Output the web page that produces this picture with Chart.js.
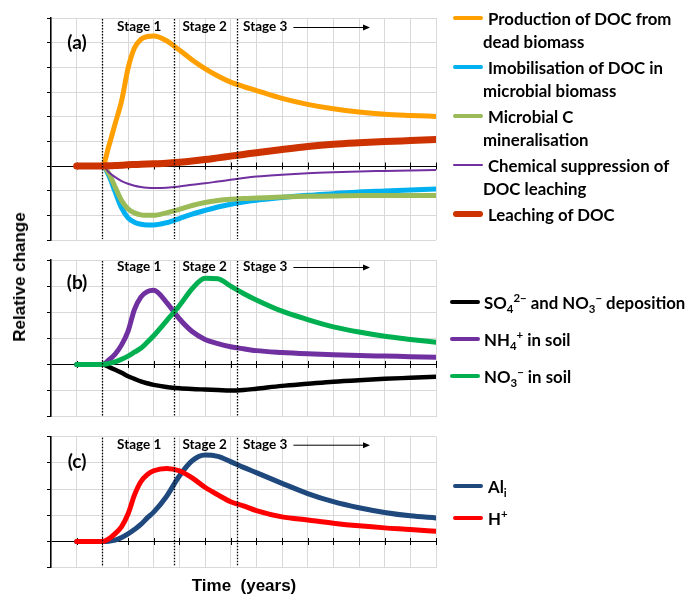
<!DOCTYPE html>
<html><head><meta charset="utf-8">
<script src="https://cdn.jsdelivr.net/npm/chart.js@4/dist/chart.umd.min.js"></script>
<style>
html,body{margin:0;padding:0;background:#fff;}
body{width:691px;height:597px;position:relative;overflow:hidden;font-family:Lato,'Liberation Sans',sans-serif;font-weight:bold;color:#000;}
canvas.panel{position:absolute;left:0;}
.legend{position:absolute;left:0;top:0;font-size:16.8px;}
.item{position:relative;}
.sw{position:absolute;border-radius:4px;}
.txt{line-height:23px;text-indent:5px;white-space:nowrap;}
sub,sup{font-size:68%;line-height:0;}
.ytitle{position:absolute;left:20px;top:277px;transform:translate(-50%,-50%) rotate(-90deg);white-space:nowrap;font-size:17px;font-family:'Liberation Sans',Arial,sans-serif;}
.xtitle{position:absolute;left:244px;top:586px;transform:translate(-50%,-50%);white-space:nowrap;font-size:17px;font-family:'Liberation Sans',Arial,sans-serif;}
</style></head><body>
<canvas id="ca" class="panel" width="446" height="250" style="top:0px"></canvas>
<canvas id="cb" class="panel" width="446" height="176" style="top:250px"></canvas>
<canvas id="cc" class="panel" width="446" height="150" style="top:427px"></canvas>
<div id="legA" class="legend"></div>
<div id="legB" class="legend"></div>
<div id="legC" class="legend"></div>
<div class="ytitle">Relative change</div>
<div class="xtitle">Time&nbsp; (years)</div>
<script>
// ---------- data ----------
const time = [1, 2, 2.25, 2.5, 2.75, 3, 3.25, 3.5, 3.75, 4, 4.5, 5, 5.5, 6, 6.5, 7, 7.5, 8, 9, 10, 11, 12, 13, 14, 15];
const stageBounds = [2, 4.8, 7.25];
const stageNames = ['Stage 1', 'Stage 2', 'Stage 3'];

// panel (a)
const docProduction   = [0, 0, 0.8, 1.72, 2.64, 3.95, 4.78, 5.13, 5.25, 5.27, 5.08, 4.7, 4.3, 3.95, 3.65, 3.4, 3.22, 3.06, 2.74, 2.5, 2.32, 2.19, 2.1, 2.05, 2.01];
const docImmobilised  = [0, 0, -0.38, -1.05, -1.7, -2.1, -2.28, -2.36, -2.39, -2.39, -2.3, -2.13, -1.95, -1.8, -1.66, -1.55, -1.46, -1.39, -1.28, -1.19, -1.12, -1.05, -1.01, -0.97, -0.93];
const mineralisation  = [0, 0, -0.3, -0.85, -1.4, -1.74, -1.9, -1.98, -2.0, -2.0, -1.9, -1.76, -1.6, -1.48, -1.4, -1.35, -1.32, -1.3, -1.26, -1.23, -1.22, -1.2, -1.2, -1.2, -1.2];
const chemSuppression = [0, 0, -0.25, -0.45, -0.61, -0.72, -0.8, -0.85, -0.88, -0.89, -0.88, -0.83, -0.76, -0.7, -0.63, -0.56, -0.49, -0.43, -0.35, -0.29, -0.25, -0.22, -0.2, -0.18, -0.16];
const docLeaching     = [0, 0, 0.01, 0.02, 0.03, 0.05, 0.06, 0.07, 0.08, 0.09, 0.11, 0.15, 0.2, 0.26, 0.33, 0.4, 0.47, 0.54, 0.67, 0.79, 0.88, 0.94, 0.99, 1.03, 1.07];
// panel (b)
const deposition      = [0, 0, -0.09, -0.2, -0.32, -0.45, -0.55, -0.65, -0.72, -0.78, -0.86, -0.91, -0.94, -0.96, -0.98, -1.0, -0.98, -0.93, -0.82, -0.74, -0.66, -0.6, -0.55, -0.51, -0.47];
const nh4Soil         = [0, 0, 0.17, 0.4, 0.75, 1.27, 2.1, 2.58, 2.79, 2.84, 2.38, 1.75, 1.26, 0.96, 0.8, 0.68, 0.6, 0.53, 0.46, 0.41, 0.37, 0.34, 0.32, 0.3, 0.28];
const no3Soil         = [0, 0, 0.04, 0.1, 0.2, 0.32, 0.47, 0.62, 0.85, 1.1, 1.67, 2.25, 2.9, 3.3, 3.28, 3.0, 2.72, 2.47, 2.04, 1.72, 1.44, 1.24, 1.08, 0.96, 0.85];
// panel (c)
const aluminium       = [0, 0, 0.01, 0.05, 0.15, 0.29, 0.46, 0.65, 0.9, 1.12, 1.72, 2.5, 3.08, 3.3, 3.25, 3.05, 2.83, 2.63, 2.22, 1.83, 1.52, 1.29, 1.11, 0.98, 0.9];
const hydrogen        = [0, 0, 0.1, 0.3, 0.57, 1.05, 1.77, 2.28, 2.55, 2.7, 2.79, 2.7, 2.43, 2.07, 1.78, 1.52, 1.36, 1.18, 0.94, 0.82, 0.7, 0.6, 0.52, 0.46, 0.39];

const labelsA = [['Production of DOC from', 'dead biomass'], ['Imobilisation of DOC in', 'microbial biomass'], ['Microbial C', 'mineralisation'], ['Chemical suppression of', 'DOC leaching'], ['Leaching of DOC']];
const labelsB = [['SO<sub>4</sub><sup>2\u2212</sup> and NO<sub>3</sub><sup>\u2212</sup> deposition'], ['NH<sub>4</sub><sup>+</sup> in soil'], ['NO<sub>3</sub><sup>\u2212</sup> in soil']];
const labelsC = [['Al<sub>i</sub>'], ['H<sup>+</sup>']];

// ---------- helpers ----------
Chart.defaults.font.family = "Lato, 'Liberation Sans', sans-serif";
const pts = arr => arr.map((v, i) => ({x: time[i], y: v}));
function ds(label, data, color, width, order) {
  return {label, data: pts(data), borderColor: color, backgroundColor: color, borderWidth: width,
    pointRadius: 0, cubicInterpolationMode: 'monotone', borderCapStyle: 'round', borderJoinStyle: 'round', order};
}

const stagePlugin = {
  id: 'stages',
  beforeDatasetsDraw(chart) {
    const {ctx, scales: {x, y}} = chart;
    const y0 = y.getPixelForValue(0);
    ctx.save(); ctx.strokeStyle = '#000'; ctx.lineWidth = 1;
    x.ticks.forEach(t => {
      if (t.value === 0) return;
      const px = Math.round(x.getPixelForValue(t.value)) + 0.5;
      ctx.beginPath(); ctx.moveTo(px, y0 - 3.5); ctx.lineTo(px, y0 + 3.5); ctx.stroke();
    });
    ctx.restore();
  },
  afterDatasetsDraw(chart, args, opts) {
    const {ctx, chartArea: a, scales: {x}} = chart;
    ctx.save();
    ctx.strokeStyle = '#000'; ctx.lineWidth = 1.3; ctx.setLineDash([1.5, 1.5]);
    stageBounds.forEach(b => {
      const px = Math.round(x.getPixelForValue(b)) + 0.5;
      ctx.beginPath(); ctx.moveTo(px, a.top + 1); ctx.lineTo(px, a.bottom - 1); ctx.stroke();
    });
    ctx.setLineDash([]);
    ctx.fillStyle = '#000';
    ctx.font = "bold 13.5px Lato, 'Liberation Sans', sans-serif";
    ctx.textBaseline = 'middle';
    const ty = a.top + opts.stageDy;
    ctx.textAlign = 'center';
    ctx.fillText(stageNames[0], (x.getPixelForValue(stageBounds[0]) + x.getPixelForValue(stageBounds[1])) / 2 + 1, ty);
    ctx.fillText(stageNames[1], (x.getPixelForValue(stageBounds[1]) + x.getPixelForValue(stageBounds[2])) / 2 - 1, ty);
    ctx.textAlign = 'left';
    const s3 = x.getPixelForValue(stageBounds[2]) + 6;
    ctx.fillText(stageNames[2], s3, ty);
    const ax0 = s3 + ctx.measureText(stageNames[2]).width + 6, ax1 = 370;
    ctx.lineWidth = 1;
    ctx.beginPath(); ctx.moveTo(ax0, ty + 0.5); ctx.lineTo(ax1 - 5, ty + 0.5); ctx.stroke();
    ctx.beginPath(); ctx.moveTo(ax1, ty + 0.5); ctx.lineTo(ax1 - 7, ty - 2.5); ctx.lineTo(ax1 - 7, ty + 3.5); ctx.closePath(); ctx.fill();
    ctx.font = "bold 19px Lato, 'Liberation Sans', sans-serif";
    ctx.textAlign = 'center';
    ctx.fillText(opts.panel, a.left + 26, a.top + opts.panelDy);
    ctx.restore();
  }
};

function makeChart(id, datasets, yMin, yMax, padding, plugOpts) {
  return new Chart(document.getElementById(id), {
    type: 'line',
    data: {datasets},
    plugins: [stagePlugin],
    options: {
      responsive: false, animation: false, devicePixelRatio: 1,
      layout: {padding},
      plugins: {legend: {display: false}, tooltip: {enabled: false}, stages: plugOpts},
      scales: {
        x: {type: 'linear', min: 0, max: 15, ticks: {display: false, stepSize: 1},
            grid: {color: '#d9d9d9', lineWidth: 1, drawTicks: false}, border: {display: false}},
        y: {min: yMin, max: yMax, ticks: {display: false, stepSize: 1},
            afterFit: s => { s.width = 4; },
            grid: {color: c => c.tick && c.tick.value === 0 ? '#000' : '#d9d9d9', lineWidth: 1, drawTicks: true, tickLength: 4, tickColor: '#000'},
            border: {display: true, color: '#000', width: 1.5}}
      }
    }
  });
}

const chartA = makeChart('ca', [
  ds('Production of DOC from dead biomass', docProduction, '#FFA000', 5, 1),
  ds('Imobilisation of DOC in microbial biomass', docImmobilised, '#00B0F0', 5, 4),
  ds('Microbial C mineralisation', mineralisation, '#9BBB59', 5, 3),
  ds('Chemical suppression of DOC leaching', chemSuppression, '#7030A0', 2, 2),
  ds('Leaching of DOC', docLeaching, '#CC3300', 7, 0)
], -3, 6, {left: 47, right: 10, top: 18, bottom: 10}, {panel: '(a)', stageDy: 9, panelDy: 25});

const chartB = makeChart('cb', [
  ds('SO4 2- and NO3- deposition', deposition, '#000000', 4.5, 2),
  ds('NH4+ in soil', nh4Soil, '#7030A0', 5, 1),
  ds('NO3- in soil', no3Soil, '#00B050', 5, 0)
], -2, 4, {left: 47, right: 10, top: 10, bottom: 9.3}, {panel: '(b)', stageDy: 7, panelDy: 23});

const chartC = makeChart('cc', [
  ds('Ali', aluminium, '#1F497D', 5, 1),
  ds('H+', hydrogen, '#FF0000', 5, 0)
], -1, 4, {left: 47, right: 10, top: 9.7, bottom: 9.3}, {panel: '(c)', stageDy: 8, panelDy: 25});

// ---------- HTML legends built from the datasets ----------
function buildLegend(elId, chart, labels, top, swLeft, txtLeft, lineH, gap) {
  const el = document.getElementById(elId);
  el.style.top = top + 'px';
  chart.data.datasets.forEach((d, i) => {
    const item = document.createElement('div');
    item.className = 'item';
    item.style.marginBottom = gap + 'px';
    const sw = document.createElement('div');
    sw.className = 'sw';
    const h = Math.max(2, d.borderWidth - 1);
    sw.style.cssText = `left:${swLeft}px;width:30px;height:${h}px;top:${lineH / 2 - h / 2}px;background:${d.borderColor};`;
    const tx = document.createElement('div');
    tx.className = 'txt';
    tx.style.marginLeft = txtLeft + 'px';
    tx.style.lineHeight = lineH + 'px';
    tx.innerHTML = labels[i].join('<br>');
    item.appendChild(sw); item.appendChild(tx);
    el.appendChild(item);
  });
}
buildLegend('legA', chartA, labelsA, 6.5, 453, 483, 23, 3);
buildLegend('legB', chartB, labelsB, 290.5, 450, 479, 23, 14);
buildLegend('legC', chartC, labelsC, 474.5, 453, 483, 23, 9);
</script>
</body></html>
